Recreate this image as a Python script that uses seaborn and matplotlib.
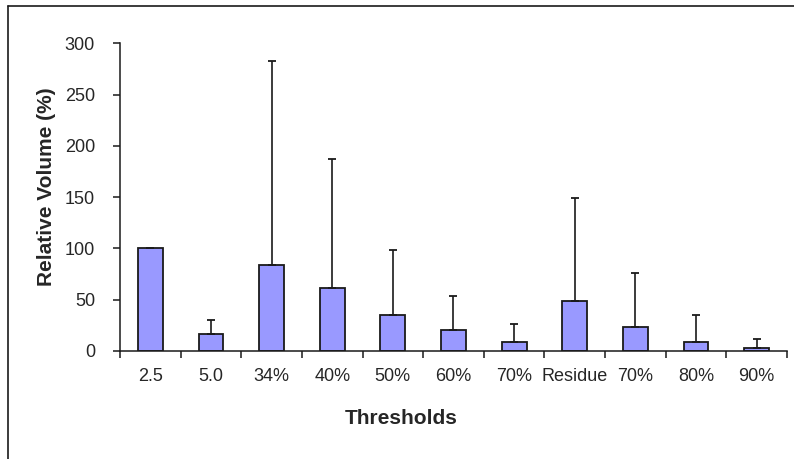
import numpy as np
import pandas as pd
import matplotlib
matplotlib.use("Agg")
import matplotlib.pyplot as plt
from matplotlib.lines import Line2D
import seaborn as sns

# data
thresholds = ['2.5', '5.0', '34%', '40%', '50%', '60%', '70%', 'Residue', '70%', '80%', '90%']
volume = [100, 17, 84, 61, 35, 20.5, 9, 48.5, 23.5, 9, 2.5]
upper = [np.nan, 30, 283, 187, 98, 54, 26, 149, 76, 35, 12]   # top of each error bar

sns.set_style("white")
plt.rcParams['font.family'] = ['Liberation Sans', 'DejaVu Sans']

df = pd.DataFrame({'pos': range(len(thresholds)), 'volume': volume})

fig = plt.figure(figsize=(7.94, 4.59), dpi=100)
ax = fig.add_axes([0.1511, 0.2353, 0.8401, 0.6704])

sns.barplot(data=df, x='pos', y='volume', color='#9999ff', saturation=1,
            edgecolor='#1a1a1a', linewidth=1.3, width=0.41, errorbar=None, ax=ax)

err_up = np.array(upper) - np.array(volume)
ax.errorbar(df['pos'], df['volume'], yerr=[np.zeros(len(volume)), err_up],
            fmt='none', ecolor='#1a1a1a', elinewidth=1.2, capsize=3.2, capthick=1.3)

ax.set_ylim(0, 300)
ax.set_xlim(-0.5, len(thresholds) - 0.5)
ax.set_yticks(range(0, 301, 50))

# ticks between categories, labels at centres
ax.set_xticks(np.arange(-0.5, len(thresholds), 1))
ax.set_xticklabels([])
ax.set_xticks(range(len(thresholds)), minor=True)
ax.set_xticklabels(thresholds, minor=True)
ax.tick_params(axis='x', which='major', direction='out', length=5, width=1.1,
               color='#1a1a1a', bottom=True)
ax.tick_params(axis='x', which='minor', length=0, pad=12, labelsize=13)
ax.tick_params(axis='y', direction='out', length=5, width=1.1, color='#1a1a1a',
               left=True, pad=13, labelsize=13)

sns.despine(ax=ax)
for s in ('left', 'bottom'):
    ax.spines[s].set_color('#1a1a1a')
    ax.spines[s].set_linewidth(1.1)

ax.set_xlabel('Thresholds', fontsize=15, fontweight='bold')
ax.set_ylabel('Relative Volume (%)', fontsize=15, fontweight='bold')
ax.xaxis.set_label_coords(0.422, -0.218)
ax.yaxis.set_label_coords(-0.11, 0.533)
ax.xaxis.label.set_va('center')
ax.yaxis.label.set_va('center')

# outer chart frame (top and left edge visible)
fx = 8 / 794
fy = 1 - 6 / 459
fig.add_artist(Line2D([fx, 1], [fy, fy], transform=fig.transFigure, color='#1a1a1a', lw=1.2))
fig.add_artist(Line2D([fx, fx], [0, fy], transform=fig.transFigure, color='#1a1a1a', lw=1.2))

fig.savefig('out.png', dpi=100)
